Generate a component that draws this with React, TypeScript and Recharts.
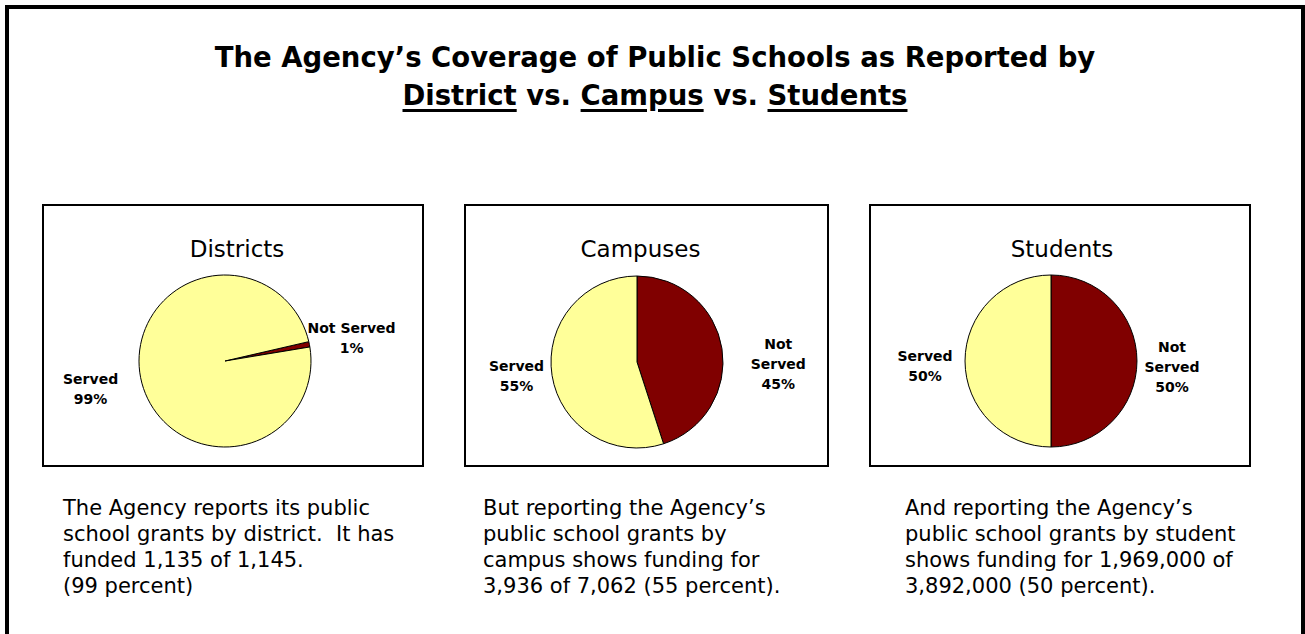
import React from 'react';
import { PieChart, Pie, Cell } from 'recharts';

// slice order: Not Served first, then Served
const categories = ['Not Served', 'Served'];
const districtValues = [1, 99];
const campusValues = [45, 55];
const studentValues = [50, 50];

const chartTitles = ['Districts', 'Campuses', 'Students'];

const captionLines = [
  ['The Agency reports its public', 'school grants by district.  It has', 'funded 1,135 of 1,145.', '(99 percent)'],
  ['But reporting the Agency\u2019s', 'public school grants by', 'campus shows funding for', '3,936 of 7,062 (55 percent).'],
  ['And reporting the Agency\u2019s', 'public school grants by student', 'shows funding for 1,969,000 of', '3,892,000 (50 percent).'],
];

const COLORS = ['#800000', '#FFFF99'];
const FONT = '"DejaVu Sans", Verdana, sans-serif';

// layout for each of the three panels
const panels = [
  { left: 42, width: 382, cx: 181, cy: 155, start: 13, titleShift: 4, splitNot: false, labelR: [129, 137], labelDy: [2, 1] },
  { left: 464, width: 365, cx: 171, cy: 156, start: 90, titleShift: -6, splitNot: true, labelR: [143, 122], labelDy: [24, -5] },
  { left: 869, width: 382, cx: 180, cy: 155, start: 90, titleShift: 2, splitNot: true, labelR: [121, 126], labelDy: [6, 5] },
];
const captionLeft = [63, 483, 905];

function makeLabel(panel: typeof panels[number]) {
  return (props: any) => {
    const { cx, cy, midAngle, percent, index, name } = props;
    const rad = (Math.PI / 180) * midAngle;
    const r = panel.labelR[index];
    const x = cx + r * Math.cos(rad);
    const y = cy - r * Math.sin(rad) + panel.labelDy[index];
    let lines: string[];
    if (name === 'Not Served' && panel.splitNot) lines = ['Not', 'Served'];
    else lines = [name];
    lines = [...lines, `${Math.round(percent * 100)}%`];
    const n = lines.length;
    return (
      <text x={x} y={y} textAnchor="middle" fill="#000" fontFamily={FONT} fontWeight="bold" fontSize={14}>
        {lines.map((ln, i) => (
          <tspan key={i} x={x} y={y + (i - (n - 1) / 2) * 20 + 5}>{ln}</tspan>
        ))}
      </text>
    );
  };
}

function Panel({ idx, values }: { idx: number; values: number[] }) {
  const p = panels[idx];
  const data = categories.map((c, i) => ({ name: c, value: values[i] }));
  return (
    <div style={{ position: 'absolute', left: p.left, top: 204, width: p.width, height: 263, border: '2px solid #000', boxSizing: 'border-box', background: '#fff' }}>
      <PieChart width={p.width - 4} height={259} margin={{ top: 0, right: 0, bottom: 0, left: 0 }}>
        <Pie
          data={data}
          dataKey="value"
          nameKey="name"
          cx={p.cx}
          cy={p.cy}
          outerRadius={86}
          startAngle={p.start}
          endAngle={p.start - 360}
          stroke="#000"
          strokeWidth={1}
          label={makeLabel(p)}
          labelLine={false}
          isAnimationActive={false}
        >
          {data.map((d, i) => <Cell key={d.name} fill={COLORS[i]} />)}
        </Pie>
      </PieChart>
      <div style={{ position: 'absolute', left: p.titleShift, top: 29.5, width: '100%', textAlign: 'center', fontFamily: FONT, fontSize: 23, lineHeight: '27px', color: '#000' }}>
        {chartTitles[idx]}
      </div>
    </div>
  );
}

export default function App() {
  const ul: React.CSSProperties = { textDecoration: 'underline', textDecorationThickness: '3px', textUnderlineOffset: '4px' };
  return (
    <div style={{ position: 'absolute', left: 0, top: 0, width: 1305, height: 634, overflow: 'hidden', background: '#fff' }}>
      <div style={{ position: 'absolute', left: 5, top: 5, width: 1300, height: 660, border: '4px solid #000', boxSizing: 'border-box' }} />
      <div style={{ position: 'absolute', left: 5, top: 37.5, width: 1300, textAlign: 'center', fontFamily: FONT, fontWeight: 'bold', fontSize: 27.5, lineHeight: '38px', color: '#000' }}>
        <div>The Agency{'\u2019'}s Coverage of Public Schools as Reported by</div>
        <div>
          <span style={ul}>District</span> vs. <span style={ul}>Campus</span> vs. <span style={ul}>Students</span>
        </div>
      </div>
      <Panel idx={0} values={districtValues} />
      <Panel idx={1} values={campusValues} />
      <Panel idx={2} values={studentValues} />
      {captionLines.map((lines, i) => (
        <div key={i} style={{ position: 'absolute', left: captionLeft[i], top: 494.5, fontFamily: FONT, fontSize: 21, lineHeight: '26px', color: '#000', whiteSpace: 'pre' }}>
          {lines.map((ln, j) => <div key={j}>{ln}</div>)}
        </div>
      ))}
    </div>
  );
}
